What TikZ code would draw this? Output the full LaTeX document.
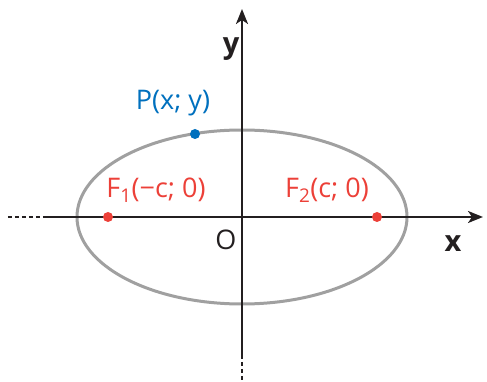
\documentclass[tikz,border=0pt]{standalone}
\usepackage{fontspec}
\setmainfont{Open Sans}
\usetikzlibrary{arrows.meta}
\definecolor{focusred}{RGB}{236,64,56}
\definecolor{pointblue}{RGB}{0,112,190}
\definecolor{curvegray}{RGB}{160,160,160}
\definecolor{axisblack}{RGB}{35,31,32}
\begin{document}
\begin{tikzpicture}[
			x=1pt, y=1pt,
			axis/.style={draw=axisblack, line width=2.2pt},
			axisdots/.style={draw=axisblack, line width=2.2pt, dash pattern=on 4pt off 3pt},
			dot/.style={circle, inner sep=0pt, minimum size=10pt},
			lbl/.style={inner sep=0pt, font=\fontsize{27}{30}\selectfont},
			axlbl/.style={inner sep=0pt, font=\fontsize{29}{32}\selectfont\bfseries, text=axisblack},
		]
		\useasboundingbox (-242,-165) rectangle (245,217);

		\coordinate (O) at (0, 0);
		\coordinate (xl) at (-234, 0);
		\coordinate (xs) at (-197, 0);
		\coordinate (xr) at (241, 0);
		\coordinate (yt) at (0, 208);
		\coordinate (ys) at (0, -138);
		\coordinate (yb) at (0, -165);

		% ellipse
		\draw[curvegray, line width=3pt] (O) ellipse [x radius=165, y radius=87];

		% axes
		\draw[axisdots] (xl) -- (xs);
		\draw[axis, -{Stealth[length=15pt, width=12pt, inset=4pt]}] (xs) -- (xr);
		\draw[axis] (ys) -- (O);
		\draw[axis, -{Stealth[length=15pt, width=12pt, inset=4pt]}] (O) -- (yt);
		\draw[axisdots] (ys) -- (yb);

		\node[dot, fill=focusred]  (f1) at (-134, 0)  {};
		\node[dot, fill=focusred]  (f2) at (135, 0)   {};
		\node[dot, fill=pointblue] (p)  at (-47, 83)  {};

		\node[lbl, text=focusred]  (f1lbl) at (-86, 27)  {F\textsubscript{1}(−c; 0)};
		\node[lbl, text=focusred]  (f2lbl) at (85, 27)   {F\textsubscript{2}(c; 0)};
		\node[lbl, text=pointblue] (plbl)  at (-69, 114) {P(x; y)};
		\node[lbl, text=axisblack] (olbl)  at (-16, -23) {O};

		\node[axlbl] (xlbl) at (211, -27) {x};
		\node[axlbl] (ylbl) at (-11, 168) {y};
	\end{tikzpicture}
\end{document}
